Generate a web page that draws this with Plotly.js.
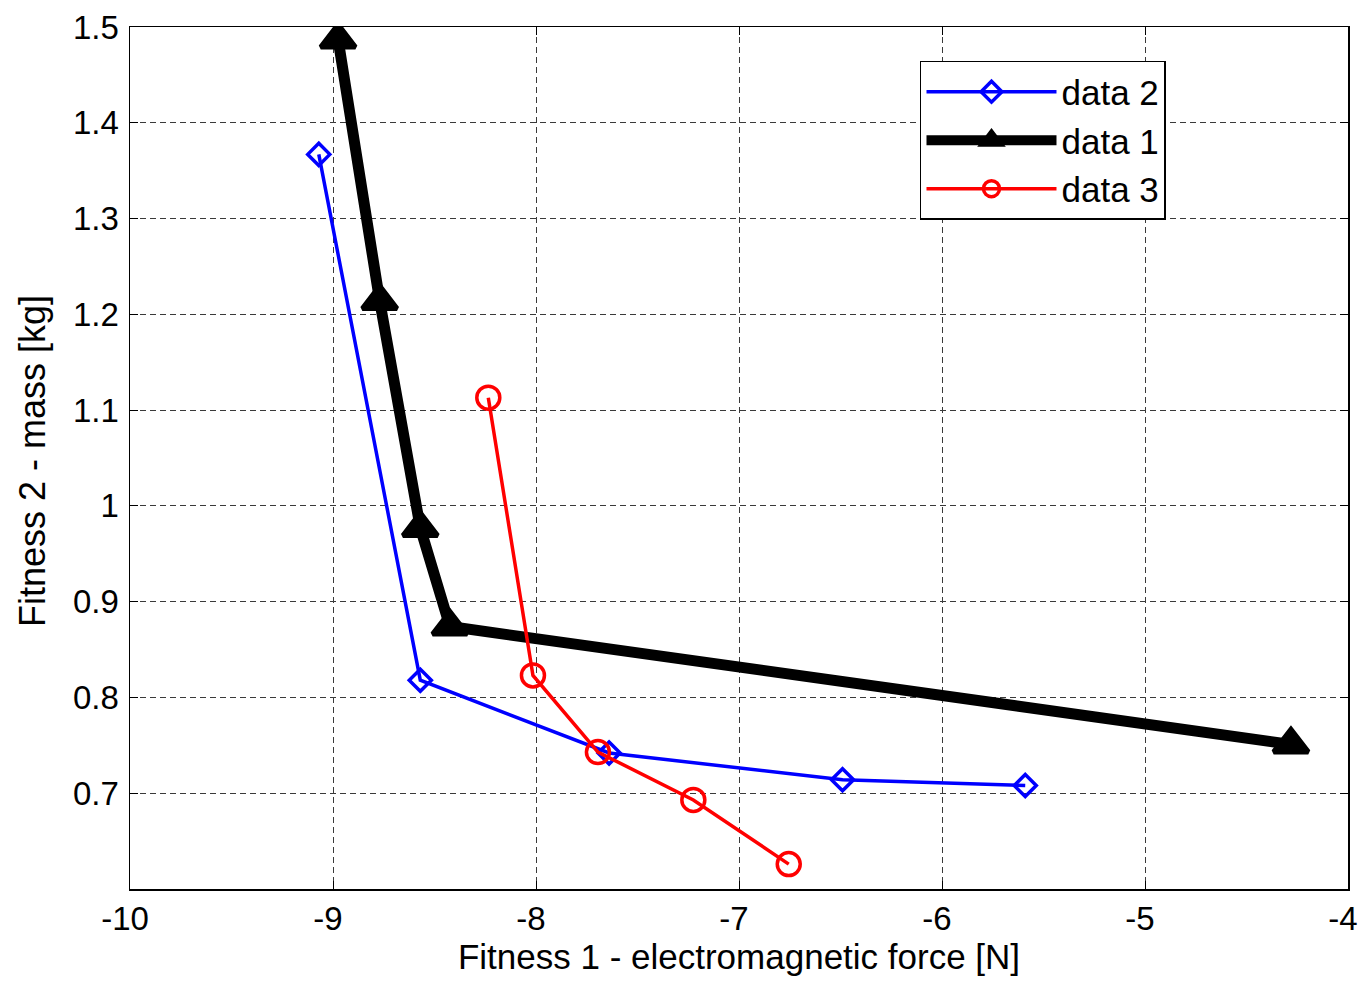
<!DOCTYPE html>
<html>
<head>
<meta charset="utf-8">
<script src="https://cdn.plot.ly/plotly-3.0.1.min.js"></script>
<style>html,body{margin:0;padding:0;background:#fff;}#chart{width:1359px;height:981px;}</style>
</head>
<body>
<div id="chart"></div>
<script>
// data 2 (blue diamonds)
const data2X = [-9.07, -8.57, -7.64, -6.49, -5.59];
const data2Y = [1.367, 0.818, 0.742, 0.714, 0.708];
// data 1 (black triangles)
const data1X = [-8.975, -8.77, -8.57, -8.424, -4.281];
const data1Y = [1.487, 1.214, 0.977, 0.874, 0.751];
// data 3 (red circles)
const data3X = [-8.235, -8.015, -7.695, -7.225, -6.755];
const data3Y = [1.113, 0.823, 0.743, 0.693, 0.626];

const xTicks = [-10, -9, -8, -7, -6, -5, -4];
const xTickText = ['-10', '-9', '-8', '-7', '-6', '-5', '-4'];
const yTicks = [0.7, 0.8, 0.9, 1.0, 1.1, 1.2, 1.3, 1.4, 1.5];
const yTickText = ['0.7', '0.8', '0.9', '1', '1.1', '1.2', '1.3', '1.4', '1.5'];

const xTitle = 'Fitness 1 - electromagnetic force [N]';
const yTitle = 'Fitness 2 - mass [kg]';

const FONT = 'Liberation Sans, Arial, Helvetica, sans-serif';

const traces = [
  {x: data2X, y: data2Y, name: 'data 2', mode: 'lines+markers', type: 'scatter',
   line: {color: '#0000ff', width: 3.5},
   marker: {symbol: 'diamond-open', size: 17, color: '#0000ff', line: {width: 3.5, color: '#0000ff'}}},
  {x: data1X, y: data1Y, name: 'data 1', mode: 'lines+markers', type: 'scatter',
   line: {color: '#000000', width: 11},
   marker: {symbol: 'triangle-up', size: 30, color: '#000000', line: {width: 5, color: '#000000'}}},
  {x: data3X, y: data3Y, name: 'data 3', mode: 'lines+markers', type: 'scatter',
   line: {color: '#ff0000', width: 3.5},
   marker: {symbol: 'circle-open', size: 23, color: '#ff0000', line: {width: 3.5, color: '#ff0000'}}}
];

const axisCommon = {
  showline: true, linecolor: '#000', linewidth: 1.5, mirror: 'allticks',
  ticks: 'inside', ticklen: 8, tickcolor: '#000', tickwidth: 1,
  showgrid: true, gridcolor: '#3a3a3a', gridwidth: 1, griddash: '6px,4px',
  zeroline: false, ticklabeloverflow: 'allow',
  tickfont: {family: FONT, size: 33, color: '#000'}
};

const layout = {
  width: 1359, height: 981,
  margin: {l: 130, r: 11, t: 27, b: 92},
  paper_bgcolor: '#fff', plot_bgcolor: '#fff',
  font: {family: FONT, size: 33, color: '#000'},
  xaxis: Object.assign({}, axisCommon, {
    range: [-10, -4], tickvals: xTicks, ticktext: xTickText, ticklabelshift: -5,
    title: {text: xTitle, font: {family: FONT, size: 35}, standoff: 8}
  }),
  yaxis: Object.assign({}, axisCommon, {
    range: [0.6, 1.5], tickvals: yTicks, ticktext: yTickText, ticklabelstandoff: 3
  }),
  annotations: [{
    text: yTitle, xref: 'paper', yref: 'paper', x: 0, y: 0.5,
    xanchor: 'center', yanchor: 'middle', xshift: -98, yshift: -3,
    textangle: -90, showarrow: false,
    font: {family: FONT, size: 36, color: '#000'}
  }],
  showlegend: true,
  legend: {
    x: 0.6486, y: 0.9606, xanchor: 'left', yanchor: 'top',
    bgcolor: '#fff', bordercolor: '#000', borderwidth: 1.5,
    font: {family: FONT, size: 35, color: '#000'},
    itemwidth: 130
  }
};

Plotly.newPlot('chart', traces, layout, {displayModeBar: false, staticPlot: true});
</script>
</body>
</html>
